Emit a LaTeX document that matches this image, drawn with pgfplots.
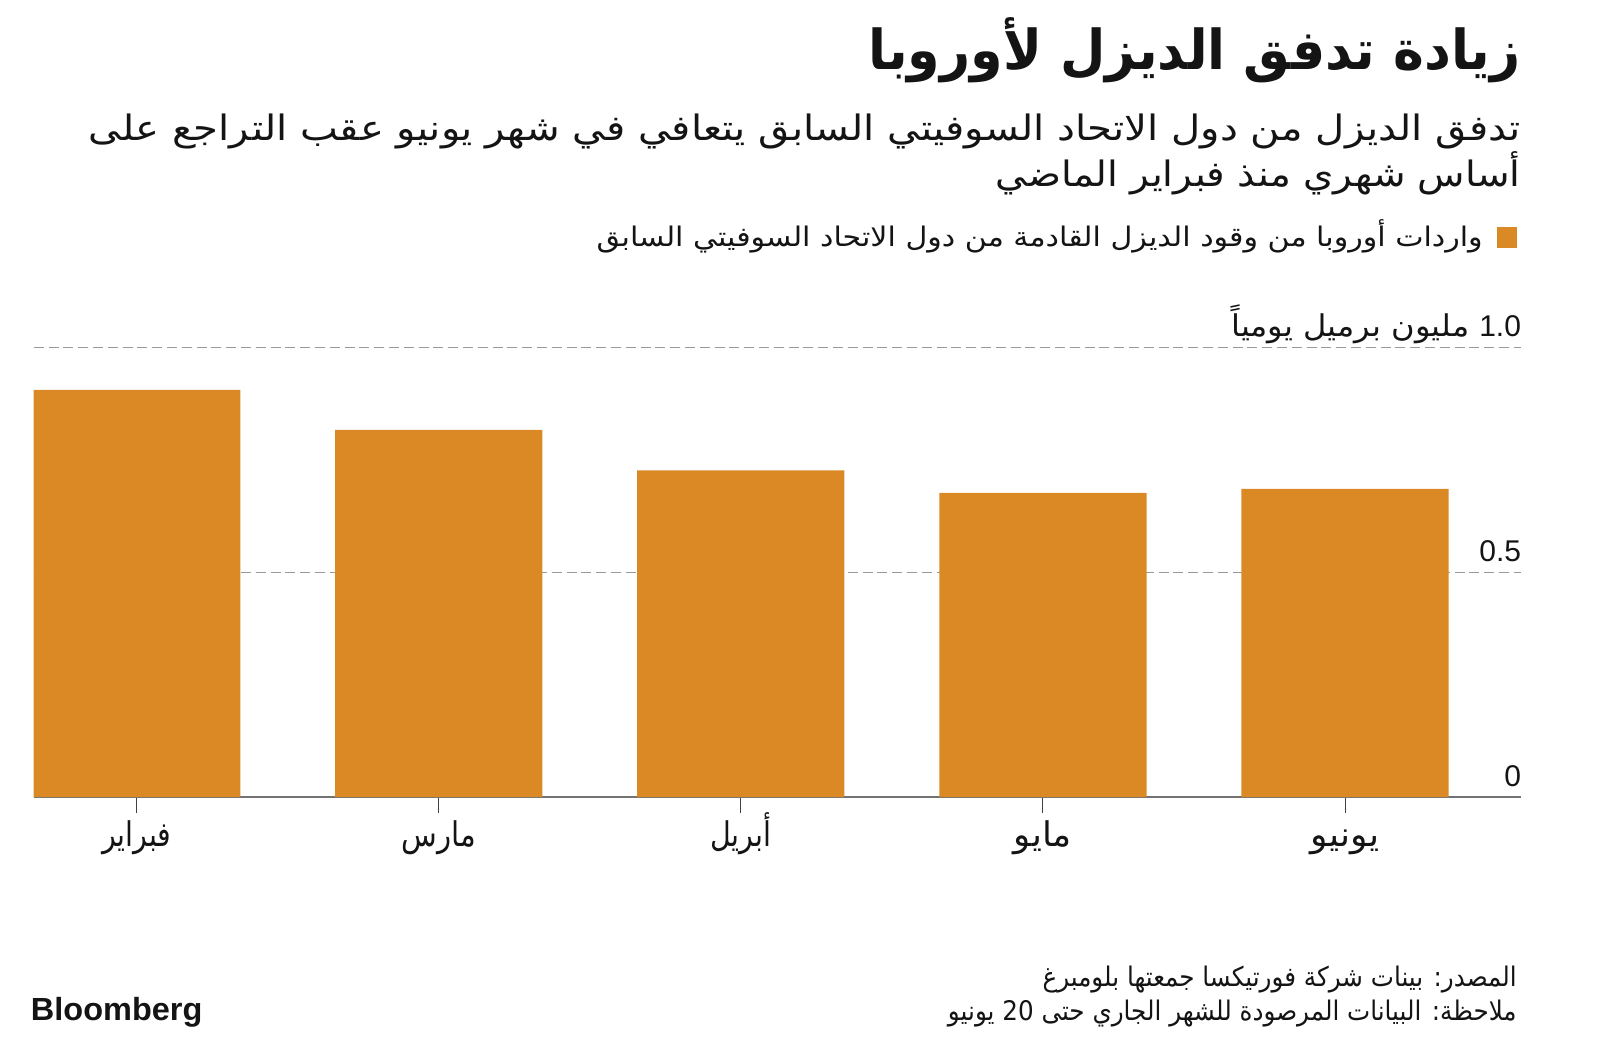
\documentclass[border=0pt]{standalone}
\usepackage{fontspec}
\usepackage{graphicx}
\usepackage{pgfplots}
\pgfplotsset{compat=1.18}
\TeXXeTstate=1
\setmainfont{Liberation Sans}
\newfontfamily\ar[Script=Arabic]{DejaVu Sans}
\definecolor{barc}{RGB}{219,137,37}
\definecolor{ink}{RGB}{20,20,20}
% Arabic text squeezed to a given width, height kept
\newcommand\AR[2]{\resizebox{#1}{\height}{\ar\beginR #2\endR}}

\begin{document}
\begin{tikzpicture}
\path[use as bounding box] (0,0) rectangle (800pt,520.5pt);

% header
\node[anchor=base east, inner sep=0pt, text=ink] at (760.5pt,485.5pt)
  {\fontsize{27.5}{32}\selectfont\bfseries\AR{326pt}{\beginR زيادة تدفق الديزل لأوروبا\endR}};
\node[anchor=base east, inner sep=0pt, text=ink] at (760.5pt,450.2pt)
  {\fontsize{17.5}{21}\selectfont\AR{715.8pt}{\beginR تدفق الديزل من دول الاتحاد السوفيتي السابق يتعافي في شهر يونيو عقب التراجع على\endR}};
\node[anchor=base east, inner sep=0pt, text=ink] at (760.5pt,427.2pt)
  {\fontsize{17.5}{21}\selectfont\AR{262.3pt}{\beginR أساس شهري منذ فبراير الماضي\endR}};

% legend
\fill[barc] (748.3pt,396.3pt) rectangle (758.3pt,407.2pt);
\node[anchor=base east, inner sep=0pt, text=ink] at (741.5pt,397.2pt)
  {\fontsize{13.5}{16}\selectfont\AR{443pt}{\beginR واردات أوروبا من وقود الديزل القادمة من دول الاتحاد السوفيتي السابق\endR}};

\begin{axis}[
  at={(16.85pt,122pt)}, anchor=south west,
  scale only axis, width=743.85pt, height=225pt,
  xmin=-0.341, xmax=4.584, ymin=0, ymax=1,
  ybar, bar width=0.686,
  axis x line*=bottom, axis y line*=right,
  x axis line style={draw=black!55, line width=1.1pt, -},
  y axis line style={draw=none},
  xtick={0,1,2,3,4},
  xticklabels={
    {\AR{34.7pt}{فبراير}},
    {\AR{37.2pt}{مارس}},
    {\AR{30.6pt}{أبريل}},
    {\AR{29.1pt}{مايو}},
    {\AR{34.2pt}{يونيو}}},
  xtick align=outside, major tick length=8pt,
  xtick style={draw=black!75, line width=0.5pt},
  xticklabel style={anchor=base, inner sep=0pt, yshift=-16.5pt,
    font=\fontsize{17}{20}\selectfont, text=ink},
  ytick={0,0.5,1},
  yticklabels={0,0.5,{\AR{119pt}{\beginR مليون برميل يومياً\endR}\hspace{5pt}1.0}},
  ytick align=inside, ytick style={draw=none},
  yticklabel style={anchor=base east, inner sep=0pt, yshift=5.5pt,
    font=\fontsize{15}{18}\selectfont, text=ink},
  ymajorgrids,
  grid style={draw=black!40, line width=0.5pt, dash pattern=on 5pt off 2.4pt},
]
\addplot[fill=barc, draw=none] coordinates {
  (0,0.905) (1,0.816) (2,0.726) (3,0.676) (4,0.685)
};
\end{axis}

% footer
\node[anchor=base east, inner sep=0pt, text=ink] at (758.5pt,27.5pt)
  {\fontsize{13.5}{16}\selectfont\AR{237pt}{\beginR المصدر: بينات شركة فورتيكسا جمعتها بلومبرغ\endR}};
\node[anchor=base east, inner sep=0pt, text=ink] at (758.5pt,10.5pt)
  {\fontsize{13.5}{16}\selectfont\AR{284.3pt}{\beginR ملاحظة: البيانات المرصودة للشهر الجاري حتى \beginL 20\endL{} يونيو\endR}};
\node[anchor=base west, inner sep=0pt, text=ink] at (15.3pt,10.5pt)
  {\fontsize{16}{19}\selectfont\bfseries\resizebox{85.7pt}{\height}{Bloomberg}};
\end{tikzpicture}
\end{document}
